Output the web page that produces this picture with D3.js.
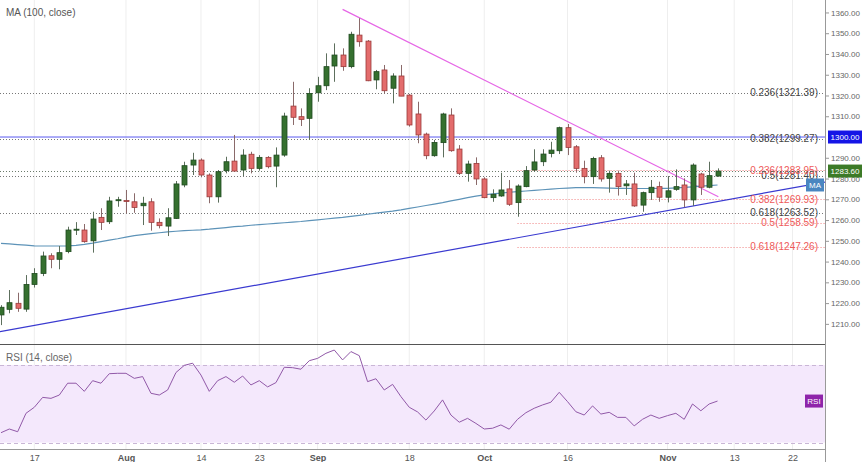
<!DOCTYPE html>
<html>
<head>
<meta charset="utf-8">
<title>Gold daily - MA 100 / RSI 14</title>
<script src="https://cdnjs.cloudflare.com/ajax/libs/d3/7.8.5/d3.min.js"></script>
<style>
  body { margin: 0; background: #fff; }
  text { font-family: "Liberation Sans", Arial, sans-serif; }
</style>
</head>
<body>
<div id="chart"></div>
<script>
// daily candles, one per trading session (index 0 = first bar on the left)
var opens  = [1214.3,1217.0,1219.9,1217.1,1229.0,1234.3,1242.8,1241.1,1244.8,1255.4,1255.2,1250.0,1261.3,1259.2,1269.6,1269.4,1268.8,1266.9,1268.8,1258.9,
              1257.1,1260.8,1276.9,1286.5,1288.9,1281.7,1271.2,1283.8,1288.4,1284.1,1291.7,1284.9,1290.2,1286.0,1291.3,1314.9,1309.8,1309.0,1321.3,1324.7,
              1334.2,1339.5,1333.9,1349.1,1346.2,1327.5,1332.3,1323.5,1329.4,1320.2,1311.1,1301.4,1291.0,1297.3,1310.6,1294.2,1282.5,1287.3,1279.8,1270.8,
              1271.6,1275.0,1268.4,1276.1,1284.1,1288.1,1292.1,1293.4,1304.5,1295.3,1284.9,1280.9,1290.0,1280.1,1282.5,1276.5,1277.4,1267.2,1273.2,1276.1,
              1271.0,1274.8,1276.9,1269.7,1282.2,1275.8,1281.2];
var highs  = [1219.0,1226.3,1225.0,1233.5,1236.8,1244.8,1244.0,1247.5,1256.8,1259.0,1258.1,1264.0,1265.7,1271.2,1271.2,1274.5,1272.9,1271.2,1270.5,1260.8,
              1265.7,1278.8,1288.1,1292.4,1289.7,1282.5,1284.1,1290.5,1301.0,1294.1,1292.9,1291.3,1290.8,1295.0,1311.7,1326.6,1313.8,1323.5,1329.0,1340.3,
              1345.1,1342.7,1350.7,1357.2,1346.7,1332.3,1334.7,1330.7,1334.7,1320.7,1317.0,1302.1,1298.6,1311.7,1313.8,1296.1,1288.6,1290.2,1280.6,1274.8,
              1282.8,1279.3,1277.2,1286.0,1294.1,1294.1,1297.7,1305.0,1306.3,1296.1,1288.6,1290.5,1291.3,1283.8,1283.8,1279.3,1282.8,1273.7,1279.3,1278.5,
              1281.2,1284.4,1280.1,1287.3,1282.8,1288.1,1284.9];
var lows   = [1209.4,1215.1,1215.8,1215.8,1227.5,1233.0,1236.8,1236.3,1244.0,1252.8,1249.1,1244.3,1255.2,1258.1,1266.4,1263.2,1263.5,1257.6,1254.9,1256.0,
              1252.3,1260.5,1275.8,1281.7,1280.6,1268.1,1268.4,1282.5,1283.3,1281.2,1282.5,1283.8,1284.9,1275.8,1290.5,1305.8,1305.3,1298.6,1317.0,1322.6,
              1326.6,1331.9,1333.1,1343.5,1326.9,1323.0,1321.0,1316.2,1319.7,1305.0,1297.0,1289.3,1290.5,1290.2,1292.9,1281.7,1278.5,1276.9,1270.5,1268.8,
              1271.2,1266.8,1261.6,1275.8,1283.3,1286.0,1290.2,1291.8,1291.3,1282.8,1277.7,1277.4,1278.5,1273.2,1271.8,1272.1,1266.4,1264.0,1269.7,1268.8,
              1268.5,1274.1,1266.1,1266.8,1272.1,1275.3,1280.9];
var closes = [1218.0,1220.2,1217.5,1229.0,1234.3,1242.7,1241.1,1244.3,1255.2,1255.6,1249.6,1260.5,1258.9,1269.2,1269.8,1269.2,1266.1,1268.1,1258.9,1257.3,
              1261.1,1277.4,1286.2,1288.9,1281.7,1271.2,1283.3,1288.1,1283.6,1291.3,1284.9,1290.2,1285.7,1291.3,1310.1,1309.5,1308.5,1321.0,1324.7,1333.9,
              1339.5,1333.9,1349.5,1345.9,1327.1,1331.5,1322.3,1329.4,1319.7,1305.8,1301.0,1291.0,1297.4,1311.1,1293.4,1282.5,1287.0,1279.8,1270.8,1272.4,
              1274.5,1267.6,1276.4,1283.8,1288.0,1291.8,1293.7,1304.5,1295.0,1284.9,1280.9,1289.7,1279.8,1282.5,1276.1,1277.4,1266.8,1273.2,1275.8,1271.0,
              1274.1,1276.1,1269.7,1286.5,1275.8,1281.4,1283.6];

// MA (100, close)
var ma100 = [1248.8,1248.5,1248.2,1247.9,1247.6,1247.5,1247.5,1247.5,1247.6,1247.8,1248.3,1248.9,1249.6,1250.3,1251.0,1251.8,1252.5,1253.0,1253.5,1253.9,
             1254.3,1254.6,1254.9,1255.1,1255.3,1255.6,1256.0,1256.4,1256.8,1257.1,1257.5,1257.8,1258.1,1258.4,1258.7,1259.0,1259.3,1259.7,1260.1,1260.5,
             1260.9,1261.3,1261.8,1262.3,1262.8,1263.3,1263.8,1264.3,1264.9,1265.6,1266.3,1267.0,1267.7,1268.4,1269.2,1270.0,1270.8,1271.5,1272.1,1272.6,
             1273.0,1273.4,1273.7,1274.0,1274.3,1274.6,1274.9,1275.2,1275.4,1275.6,1275.6,1275.6,1275.5,1275.4,1275.3,1275.3,1275.2,1275.2,1275.2,1275.3,
             1275.3,1275.5,1275.7,1276.0,1276.3,1276.6,1276.9];

// RSI (14, close)
var rsi14 = [35.1,37.0,35.6,45.1,48.2,53.3,52.8,54.5,60.6,60.6,56.4,61.9,60.6,65.5,65.7,65.7,63.1,64.0,55.4,54.5,
             57.1,66.1,69.8,70.9,64.8,56.4,61.9,64.0,61.1,64.3,59.7,61.9,58.7,60.9,68.8,68.6,67.8,72.2,73.4,76.0,
             77.7,72.6,76.9,74.8,61.4,62.9,57.1,60.0,53.7,48.2,45.8,41.6,46.3,52.0,44.2,40.5,42.5,39.9,37.0,37.4,
             39.1,36.9,42.0,45.4,47.7,49.4,50.8,55.9,51.1,45.9,44.2,48.9,44.7,45.6,43.0,43.0,38.6,42.0,44.2,42.5,
             43.9,45.1,42.0,49.9,46.4,49.9,51.4];

// date axis: bar index of each label
var tickLabels = ["17","Aug","14","23","Sep","18","Oct","16","Nov","13","22"];
var tickIdx    = [4, 15, 24, 31, 38, 49, 58, 68, 80, 88, 95];
var monthLabels = ["Aug","Sep","Oct","Nov"];

// price scale labels (1300 sits under its own badge)
var priceTicks = [1210,1220,1230,1240,1250,1260,1270,1280,1290,1310,1320,1330,1340,1350,1360];
var rsiTicks   = [40, 60, 80];

// retracement levels
var fibGreyLevels = [1321.39, 1299.27, 1281.40, 1263.52];
var fibGreyText   = ["0.236(1321.39)", "0.382(1299.27)", "0.5(1281.40)", "0.618(1263.52)"];
var fibRedLevels  = [1283.95, 1269.93, 1258.59, 1247.26];
var fibRedText    = ["0.236(1283.95)", "0.382(1269.93)", "0.5(1258.59)", "0.618(1247.26)"];
var fibRedStart   = 62;

// drawn trend lines [bar index, price]
var magentaTrend = [[41.0, 1361.5], [86.1, 1271.2]];
var blueTrend    = [[-0.12, 1206.3], [98.9, 1278.3]];
var roundLevel   = 1300;

var W = 863, H = 462;
var plotR = 825, mainBot = 344, rsiBot = 449;

var svg = d3.select("#chart").append("svg")
    .attr("width", W).attr("height", H);

var defs = svg.append("defs");
defs.append("clipPath").attr("id", "clipMain")
    .append("rect").attr("x", 0).attr("y", 0).attr("width", plotR).attr("height", mainBot);
defs.append("clipPath").attr("id", "clipRsi")
    .append("rect").attr("x", 0).attr("y", mainBot).attr("width", plotR).attr("height", rsiBot - mainBot);
defs.append("clipPath").attr("id", "clipRsiAxis")
    .append("rect").attr("x", plotR).attr("y", mainBot + 1).attr("width", W - plotR).attr("height", H - mainBot);

var x = d3.scaleLinear().domain([-0.12, 98.9]).range([0, plotR]);
var y = d3.scaleLinear().domain([1200.3, 1366]).range([mainBot, 0]);
var yr = d3.scaleLinear().domain([26.7, 80.8]).range([rsiBot, mainBot]);

// vertical grid
svg.append("g").selectAll("line").data(tickIdx).join("line")
    .attr("x1", function(d) { return x(d); }).attr("x2", function(d) { return x(d); })
    .attr("y1", 0).attr("y2", rsiBot)
    .style("stroke", "#eeeeee").style("stroke-width", 1);

// ---------- main panel ----------
var main = svg.append("g").attr("clip-path", "url(#clipMain)");

// round number line
main.append("line")
    .attr("x1", 0).attr("x2", plotR)
    .attr("y1", y(roundLevel)).attr("y2", y(roundLevel))
    .style("stroke", "#5a5af0").style("stroke-width", 1);

// grey retracement lines
main.selectAll(".fibg").data(fibGreyLevels).join("line")
    .attr("x1", 0).attr("x2", plotR)
    .attr("y1", function(d) { return Math.round(y(d)) + 0.5; })
    .attr("y2", function(d) { return Math.round(y(d)) + 0.5; })
    .style("stroke", "#777").style("stroke-width", 1).style("stroke-dasharray", "1,2");

// red retracement lines
main.selectAll(".fibr").data(fibRedLevels).join("line")
    .attr("x1", x(fibRedStart)).attr("x2", plotR)
    .attr("y1", function(d) { return Math.round(y(d)) + 0.5; })
    .attr("y2", function(d) { return Math.round(y(d)) + 0.5; })
    .style("stroke", "#f08080").style("stroke-width", 1).style("stroke-dasharray", "1,2");

// last price line
main.append("line")
    .attr("x1", 0).attr("x2", plotR)
    .attr("y1", Math.round(y(closes[closes.length - 1])) + 0.5)
    .attr("y2", Math.round(y(closes[closes.length - 1])) + 0.5)
    .style("stroke", "#6a7a6a").style("stroke-width", 1).style("stroke-dasharray", "1,2");

var lineFn = d3.line().x(function(d) { return x(d[0]); }).y(function(d) { return y(d[1]); });

main.append("path").datum(blueTrend).attr("d", lineFn)
    .style("fill", "none").style("stroke", "#3a3ad0").style("stroke-width", 1.2);
main.append("path").datum(magentaTrend).attr("d", lineFn)
    .style("fill", "none").style("stroke", "#e667e6").style("stroke-width", 1.2);

// moving average
main.append("path").datum(ma100)
    .attr("d", d3.line().x(function(d, i) { return x(i); }).y(function(d) { return y(d); }))
    .style("fill", "none").style("stroke", "#5d93b8").style("stroke-width", 1.2);

// candles
var bars = d3.range(closes.length).map(function(i) {
    return { i: i, o: opens[i], h: highs[i], l: lows[i], c: closes[i] };
});
var bodyW = 5;
var candle = main.append("g").selectAll("g").data(bars).join("g");
candle.append("line")
    .attr("x1", function(d) { return Math.round(x(d.i)) + 0.5; })
    .attr("x2", function(d) { return Math.round(x(d.i)) + 0.5; })
    .attr("y1", function(d) { return y(d.h); })
    .attr("y2", function(d) { return y(d.l); })
    .style("stroke", function(d) { return d.c >= d.o ? "#5d6f5d" : "#8a6a6a"; })
    .style("stroke-width", 1);
candle.append("rect")
    .attr("x", function(d) { return Math.round(x(d.i)) + 0.5 - bodyW / 2; })
    .attr("width", bodyW)
    .attr("y", function(d) { return y(Math.max(d.o, d.c)); })
    .attr("height", function(d) { return Math.max(1, Math.abs(y(d.o) - y(d.c))); })
    .style("fill", function(d) { return d.c >= d.o ? "#35702f" : "#e36c6c"; })
    .style("stroke", function(d) { return d.c >= d.o ? "#1f4a1f" : "#9a3a3a"; })
    .style("stroke-width", 0.8);

// fib labels
svg.append("g").selectAll("text").data(fibGreyLevels).join("text")
    .attr("x", 818).attr("y", function(d) { return y(d); })
    .attr("dy", "0.35em").attr("text-anchor", "end")
    .style("font-size", "10px").style("fill", "#444")
    .text(function(d, i) { return fibGreyText[i]; });
svg.append("g").selectAll("text").data(fibRedLevels).join("text")
    .attr("x", 818).attr("y", function(d) { return y(d); })
    .attr("dy", "0.35em").attr("text-anchor", "end")
    .style("font-size", "10px").style("fill", "#ee5a5a")
    .text(function(d, i) { return fibRedText[i]; });

svg.append("text").attr("x", 6).attr("y", 16)
    .style("font-size", "10px").style("fill", "#555")
    .text("MA (100, close)");

// ---------- RSI panel ----------
var rsiG = svg.append("g").attr("clip-path", "url(#clipRsi)");
rsiG.append("rect")
    .attr("x", 0).attr("width", plotR)
    .attr("y", yr(70)).attr("height", yr(30) - yr(70))
    .style("fill", "#f4e8fc");
rsiG.selectAll(".band").data([70, 30]).join("line")
    .attr("x1", 0).attr("x2", plotR)
    .attr("y1", function(d) { return Math.round(yr(d)) + 0.5; })
    .attr("y2", function(d) { return Math.round(yr(d)) + 0.5; })
    .style("stroke", "#c9b6d6").style("stroke-width", 1).style("stroke-dasharray", "4,3");
rsiG.append("path").datum(rsi14)
    .attr("d", d3.line().x(function(d, i) { return x(i); }).y(function(d) { return yr(d); }))
    .style("fill", "none").style("stroke", "#9159a8").style("stroke-width", 1);

svg.append("text").attr("x", 6).attr("y", 361)
    .style("font-size", "10px").style("fill", "#666")
    .text("RSI (14, close)");

// panel frame
svg.append("line").attr("x1", 0).attr("x2", plotR).attr("y1", mainBot + 0.5).attr("y2", mainBot + 0.5)
    .style("stroke", "#555").style("stroke-width", 1);
svg.append("line").attr("x1", 0).attr("x2", plotR).attr("y1", rsiBot + 0.5).attr("y2", rsiBot + 0.5)
    .style("stroke", "#999").style("stroke-width", 1);
svg.append("line").attr("x1", plotR + 0.5).attr("x2", plotR + 0.5).attr("y1", 0).attr("y2", H)
    .style("stroke", "#999").style("stroke-width", 1);

// ---------- axes ----------
var priceAxis = svg.append("g").attr("transform", "translate(" + plotR + ",0)")
    .call(d3.axisRight(y).tickValues(priceTicks).tickSize(4).tickPadding(2)
        .tickFormat(d3.format(".2f")));
var rsiAxis = svg.append("g").attr("transform", "translate(" + plotR + ",0)")
    .attr("clip-path", "url(#clipRsiAxis)")
    .call(d3.axisRight(yr).tickValues(rsiTicks).tickSize(4).tickPadding(2)
        .tickFormat(d3.format(".4f")));
[priceAxis, rsiAxis].forEach(function(g) {
    g.select(".domain").remove();
    g.selectAll("line").style("stroke", "#999");
    g.selectAll("text").style("font-size", "8px").style("fill", "#666")
        .style("font-family", "'Liberation Sans', Arial, sans-serif");
});

var timeAxis = svg.append("g").attr("transform", "translate(0," + rsiBot + ")")
    .call(d3.axisBottom(x).tickValues(tickIdx).tickSize(0).tickPadding(6)
        .tickFormat(function(d, i) { return tickLabels[i]; }));
timeAxis.select(".domain").remove();
timeAxis.selectAll("text")
    .style("font-size", "9px").style("fill", "#555")
    .style("font-family", "'Liberation Sans', Arial, sans-serif")
    .style("font-weight", function(d, i) { return monthLabels.indexOf(tickLabels[i]) >= 0 ? "bold" : "normal"; });

// ---------- value badges ----------
function badge(xl, yc, w, fill, label) {
    var g = svg.append("g");
    g.append("rect").attr("x", xl).attr("y", yc - 6.5).attr("width", w).attr("height", 13)
        .style("fill", fill);
    g.append("text").attr("x", xl + w / 2).attr("y", yc).attr("dy", "0.35em")
        .attr("text-anchor", "middle").style("font-size", "8px").style("fill", "#fff")
        .text(label);
}
badge(plotR + 3, y(roundLevel), 34, "#1515e6", d3.format(".2f")(roundLevel));
badge(plotR + 3, y(closes[closes.length - 1]), 34, "#3c7a27", d3.format(".2f")(closes[closes.length - 1]));
badge(plotR - 19, y(ma100[ma100.length - 1]), 18, "#4a86c0", "MA");
badge(plotR - 20, yr(rsi14[rsi14.length - 1]), 18, "#8e24aa", "RSI");
</script>
</body>
</html>
